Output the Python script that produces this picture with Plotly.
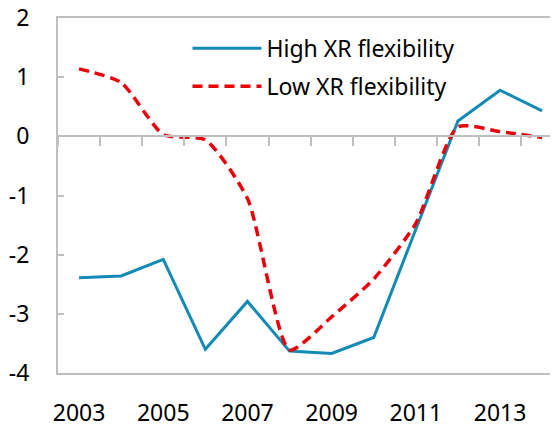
import plotly.graph_objects as go

years = list(range(2003, 2015))
high_xr = [-2.39, -2.36, -2.08, -3.60, -2.79, -3.63, -3.67, -3.40, -1.57, 0.26, 0.78, 0.43]
low_xr = [1.14, 0.91, 0.03, -0.06, -1.05, -3.61, -3.05, -2.41, -1.47, 0.16, 0.08, -0.02]
x_ticks = [2003, 2005, 2007, 2009, 2011, 2013]
y_ticks = [2, 1, 0, -1, -2, -3, -4]
y_labels = ["2", "1", "0", "-1", "-2", "-3", "-4"]

FONT = "Noto Sans"
GRAY = "#bfbfbf"

fig = go.Figure()
fig.add_trace(go.Scatter(
    x=years, y=high_xr, mode="lines", name="High XR flexibility",
    line=dict(color="#138ab5", width=3), legendgroup="a"))
fig.add_trace(go.Scatter(
    x=years, y=low_xr, mode="lines", name="Low XR flexibility",
    line=dict(color="#e8000b", width=3.5, dash="10px,6px", shape="spline", smoothing=0.6),
    legendgroup="b"))
# invisible trace to drive the zero-line axis with category ticks
fig.add_trace(go.Scatter(x=[years[0]], y=[0], xaxis="x2", mode="markers",
                         marker=dict(opacity=0), showlegend=False, hoverinfo="skip"))

xr = [2002.5, 2002.5 + 500 / 42.1]
bounds = [y - 0.5 for y in years] + [years[-1] + 0.5]

# page body has an 8px margin; figure is 550x420 so plot sits at 58..558, 18..373
fig.update_layout(
    width=550, height=420,
    margin=dict(l=50, r=0, t=10, b=55, autoexpand=False),
    paper_bgcolor="white", plot_bgcolor="white",
    font=dict(family=FONT, size=23, color="#000000"),
    showlegend=True,
    legend=dict(x=0.259, y=0.975, xanchor="left", yanchor="top",
                bgcolor="rgba(0,0,0,0)", itemwidth=69, tracegroupgap=5,
                font=dict(family=FONT, size=23)),
    xaxis=dict(range=xr, tickvals=x_ticks, ticktext=[str(v) for v in x_ticks],
               showgrid=False, zeroline=False, showline=True, linecolor=GRAY,
               linewidth=2, mirror=True, ticks="", ticklabelstandoff=18,
               ticklabeloverflow="allow", automargin=False),
    xaxis2=dict(range=xr, overlaying="x", anchor="free", position=4 / 6,
                tickvals=bounds, showticklabels=False, ticks="outside",
                ticklen=9, tickcolor=GRAY, tickwidth=2, showline=True,
                linecolor=GRAY, linewidth=2, showgrid=False, zeroline=False,
                automargin=False),
    yaxis=dict(range=[-4, 2], tickvals=y_ticks, ticktext=y_labels,
               showgrid=False, zeroline=False, showline=True, linecolor=GRAY,
               linewidth=2, ticks="inside", ticklen=6, tickcolor=GRAY,
               tickwidth=2, ticklabelstandoff=22, ticklabeloverflow="allow",
               automargin=False),
)

fig.write_html("out.html")
